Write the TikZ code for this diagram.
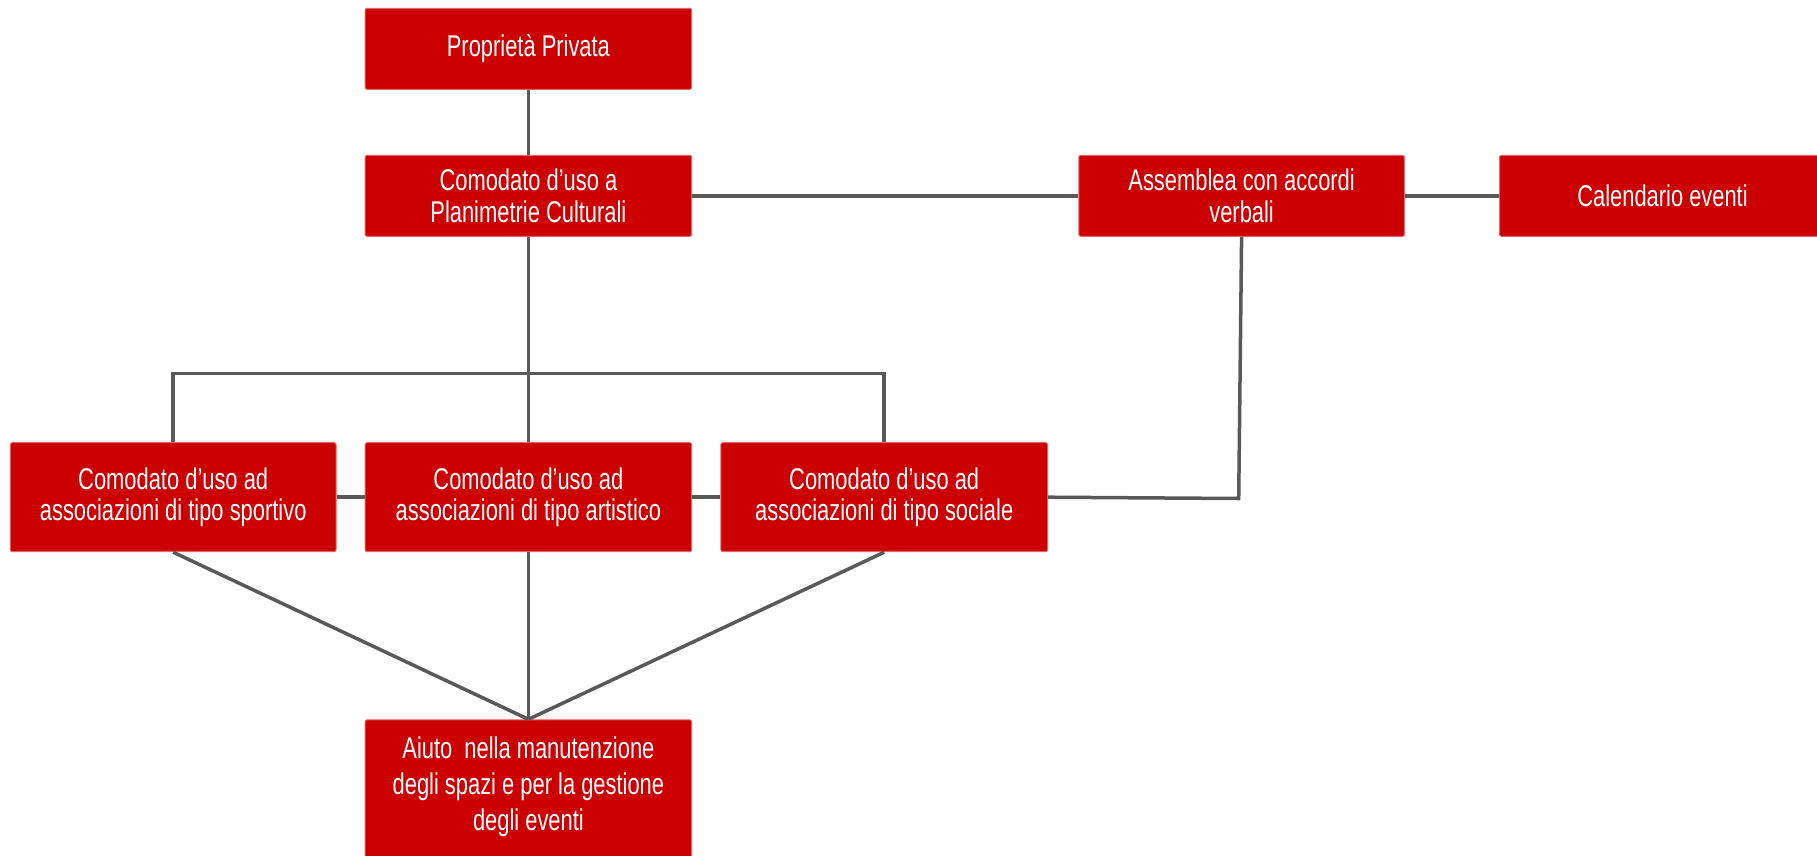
\documentclass[tikz,border=0pt]{standalone}
\usepackage{fontspec}
\setmainfont{Liberation Sans}[FakeStretch=0.73]
\definecolor{boxred}{HTML}{CC0000}
\definecolor{boxedge}{HTML}{E06666}
\definecolor{linegray}{HTML}{595959}
\tikzset{
  redbox/.style={draw=boxedge, line width=1pt, fill=boxred, rounded corners=2pt,
    text=white, align=center, inner sep=0pt,
    font=\fontsize{30}{31.7}\selectfont},
  wire/.style={draw=linegray, line width=3.5pt},
}
\begin{document}
\begin{tikzpicture}[x=1pt,y=-1pt]
\clip (0,0) rectangle (1817,856);
\fill[white] (0,0) rectangle (1817,856);
% nodes
\node[redbox, minimum width=326.6pt, minimum height=81pt] (prop) at (528.4,48.8) {Proprietà Privata};
\node[redbox, minimum width=326.6pt, minimum height=81pt] (cpc) at (528.4,195.8) {Comodato d’uso a\\Planimetrie Culturali};
\node[redbox, minimum width=325.7pt, minimum height=81pt] (ass) at (1241.6,195.8) {Assemblea con accordi\\verbali};
\node[redbox, minimum width=326pt, minimum height=81pt] (cal) at (1662.5,195.8) {Calendario eventi};
\node[redbox, minimum width=325.6pt, minimum height=109pt] (sport) at (173.2,497.2) {Comodato d’uso ad\\associazioni di tipo sportivo};
\node[redbox, minimum width=326.6pt, minimum height=109pt] (art) at (528.4,497.2) {Comodato d’uso ad\\associazioni di tipo artistico};
\node[redbox, minimum width=326.6pt, minimum height=109pt] (soc) at (884.2,497.2) {Comodato d’uso ad\\associazioni di tipo sociale};
\node[redbox, minimum width=326.6pt, minimum height=170pt, anchor=north] (aiuto) at (528.4,719.3) {};
\node[text=white, align=center, anchor=north, inner sep=0pt,
  font=\fontsize{30}{36}\selectfont] (aiutotext) at (528.4,737) {Aiuto \ nella manutenzione\\degli spazi e per la gestione\\degli eventi};
% coordinates
\coordinate (busL) at (173.2,373.3);
\coordinate (busR) at (884.2,373.3);
\coordinate (corner) at (1238.7,498.5);
% connectors
\draw[wire] (prop.south) -- (cpc.north);
\draw[wire] (cpc.south) -- (art.north);
\draw[wire] (sport.north) -- (busL) -- (busR) -- (soc.north);
\draw[wire] (cpc.east) -- (ass.west);
\draw[wire] (ass.east) -- (cal.west);
\draw[wire] (sport.east) -- (art.west);
\draw[wire] (art.east) -- (soc.west);
\draw[wire] (soc.east) -- (corner) -- (ass.south);
\draw[wire] (sport.south) -- (aiuto.north);
\draw[wire] (art.south) -- (aiuto.north);
\draw[wire] (soc.south) -- (aiuto.north);
\end{tikzpicture}
\end{document}
